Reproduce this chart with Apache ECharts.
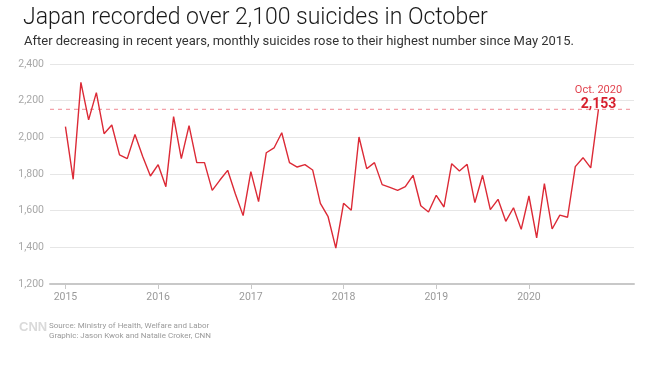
<!DOCTYPE html>
<html>
<head>
<meta charset="utf-8">
<script src="https://cdn.jsdelivr.net/npm/echarts@6/dist/echarts.min.js"></script>
<style>
html,body{margin:0;padding:0;background:#fff;}
#chart{width:650px;height:365px;}
</style>
</head>
<body>
<div id="chart"></div>
<script>
// Monthly suicides in Japan, Jan 2015 – Oct 2020 (month index 0 = Jan 2015)
const yearLabels = ['2015', '2016', '2017', '2018', '2019', '2020'];
const yearTickMonths = [0, 12, 24, 36, 48, 60];
const suicides = [
  2058, 1771, 2300, 2095, 2244, 2020, 2067, 1904, 1884, 2015, 1895, 1789,   // 2015
  1851, 1731, 2113, 1884, 2064, 1862, 1862, 1711, 1767, 1820, 1691, 1573,   // 2016
  1813, 1649, 1916, 1942, 2025, 1862, 1838, 1851, 1822, 1640, 1567, 1396,   // 2017
  1640, 1602, 2002, 1829, 1862, 1742, 1727, 1711, 1731, 1793, 1627, 1593,   // 2018
  1684, 1620, 1856, 1816, 1853, 1644, 1793, 1606, 1662, 1542, 1616, 1498,   // 2019
  1680, 1451, 1747, 1500, 1576, 1564, 1840, 1889, 1833, 2153                // 2020
];
const yTicks = [1200, 1400, 1600, 1800, 2000, 2200, 2400];
const highlightLabel = 'Oct. 2020';
const highlightIndex = 69;
const highlightValue = 2153;
const xMin = -2, xMax = 73.6;

const fmt = v => v.toLocaleString('en-US');
const chart = echarts.init(document.getElementById('chart'), null, {renderer: 'canvas'});

chart.setOption({
  backgroundColor: '#ffffff',
  animation: false,
  title: [
    {
      text: 'Japan recorded over 2,100 suicides in October',
      left: 18, top: 2,
      textStyle: {fontFamily: 'Roboto', fontWeight: 300, fontSize: 23, color: '#1a1a1a'}
    },
    {
      text: 'After decreasing in recent years, monthly suicides rose to their highest number since May 2015.',
      left: 19, top: 30,
      textStyle: {fontFamily: 'Roboto', fontWeight: 400, fontSize: 13, color: '#333'}
    }
  ],
  graphic: [
    {type: 'text', left: 19, top: 321, style: {text: 'CNN', font: 'bold 13px "Liberation Sans"', fill: '#dadada'}},
    {type: 'text', left: 49, top: 322, style: {text: 'Source: Ministry of Health, Welfare and Labor', font: '8px Roboto', fill: '#9a9a9a'}},
    {type: 'text', left: 49, top: 332, style: {text: 'Graphic: Jason Kwok and Natalie Croker, CNN', font: '8px Roboto', fill: '#9a9a9a'}}
  ],
  grid: {left: 50, right: 16, top: 64, bottom: 81, containLabel: false},
  xAxis: {
    type: 'value', min: xMin, max: xMax,
    axisLine: {show: true, onZero: false, lineStyle: {color: '#c8c8c8', width: 2}},
    axisTick: {show: true, customValues: yearTickMonths, length: 5, lineStyle: {color: '#c8c8c8', width: 1}},
    axisLabel: {
      customValues: yearTickMonths,
      formatter: v => yearLabels[Math.round(v / 12)] || '',
      color: '#9a9a9a', fontFamily: 'Roboto', fontSize: 10.5, margin: 8
    },
    splitLine: {show: false}
  },
  yAxis: {
    type: 'value', min: yTicks[0], max: yTicks[yTicks.length - 1], interval: 200,
    axisLine: {show: false, onZero: false},
    axisTick: {show: false},
    axisLabel: {formatter: v => fmt(v), color: '#a8a8a8', fontFamily: 'Roboto', fontSize: 10.5, margin: 6},
    splitLine: {lineStyle: {color: '#e6e6e6', width: 1}}
  },
  series: [
    {
      type: 'line',
      silent: true,
      data: [[xMin, highlightValue], [xMax, highlightValue]],
      symbol: 'none',
      color: '#f08a94',
      lineStyle: {color: '#f08a94', type: [4, 4], width: 1},
      z: 1
    },
    {
      type: 'line',
      data: suicides.map((v, i) => [i, v]),
      symbol: 'none',
      color: '#dc2a36',
      lineStyle: {color: '#dc2a36', width: 1.4},
      z: 3,
      markPoint: {
        silent: true,
        symbol: 'circle', symbolSize: 0,
        data: [{coord: [highlightIndex, highlightValue]}],
        label: {
          show: true, position: 'top', distance: 0, offset: [0, 3],
          formatter: () => '{a|' + highlightLabel + '}\n{b|' + fmt(highlightValue) + '}',
          rich: {
            a: {fontFamily: 'Roboto', fontSize: 11, color: '#e2434f', align: 'center', lineHeight: 13},
            b: {fontFamily: 'Roboto', fontWeight: 'bold', fontSize: 14, color: '#d71f2d', align: 'center', lineHeight: 16}
          }
        }
      }
    }
  ]
});
</script>
</body>
</html>
